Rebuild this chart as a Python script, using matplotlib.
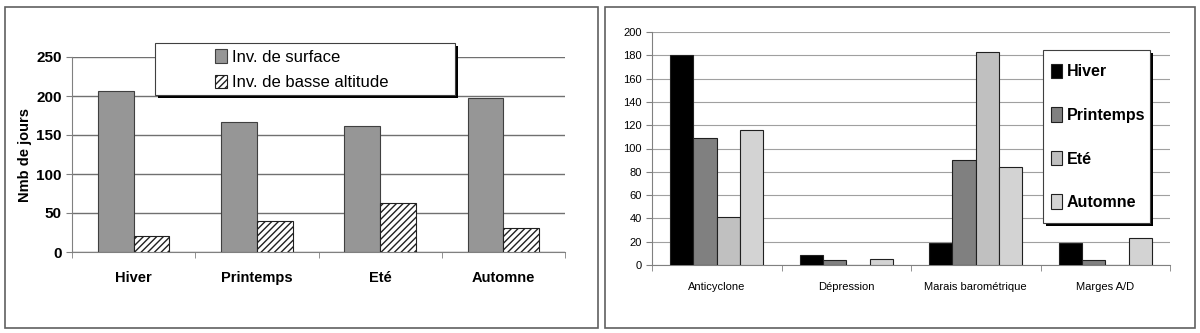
import numpy as np
import matplotlib.pyplot as plt
from matplotlib.patches import Rectangle

plt.rcParams['font.family'] = ['Liberation Sans Narrow', 'Liberation Sans', 'DejaVu Sans']
plt.rcParams['hatch.linewidth'] = 1.0

# left chart data
saisons = ['Hiver', 'Printemps', 'Eté', 'Automne']
inv_surface = [207, 167, 162, 197]
inv_basse = [20, 40, 63, 31]

# right chart data
situations = ['Anticyclone', 'Dépression', 'Marais barométrique', 'Marges A/D']
hiver = [180, 9, 19, 19]
printemps = [109, 4, 90, 4]
ete = [41, 0, 183, 0]
automne = [116, 5, 84, 23]

W, H = 1200, 333
fig = plt.figure(figsize=(W / 100, H / 100), dpi=100)


def px(x0, y0, x1, y1):
    # pixel box (top-left origin) -> figure fraction
    return [x0 / W, 1 - y1 / H, (x1 - x0) / W, (y1 - y0) / H]


def boxed(x0, y0, x1, y1, z=4):
    # white box with black drop shadow, pixel coords
    b = px(x0, y0, x1, y1)
    sh = Rectangle((b[0] + 3 / W, b[1] - 3 / H), b[2], b[3], transform=fig.transFigure,
                   facecolor='black', edgecolor='none', zorder=z)
    fr = Rectangle((b[0], b[1]), b[2], b[3], transform=fig.transFigure,
                   facecolor='white', edgecolor='#404040', linewidth=0.8, zorder=z + 0.1)
    fig.patches.extend([sh, fr])


# outer frames
for x0, x1 in [(5, 598), (605, 1195)]:
    fig.patches.append(Rectangle((x0 / W, 1 - 328 / H), (x1 - x0) / W, 321 / H,
                                 transform=fig.transFigure, fill=False,
                                 edgecolor='#606060', linewidth=1.2))

# ---- left chart ----
ax1 = fig.add_axes(px(72, 57, 565, 252))
x = np.arange(len(saisons))
bw = 0.29
ax1.bar(x - bw / 2, inv_surface, bw, color='#969696', edgecolor='#404040',
        linewidth=0.8, label='Inv. de surface', zorder=3)
ax1.bar(x + bw / 2, inv_basse, bw, color='white', edgecolor='#202020',
        hatch='/////', linewidth=0.8, label='Inv. de basse altitude', zorder=3)
ax1.set_xlim(-0.5, len(saisons) - 0.5)
ax1.set_ylim(0, 250)
ax1.set_yticks(range(0, 251, 50))
ax1.yaxis.grid(True, color='#707070', linewidth=1.0, zorder=0)
ax1.set_xticks(x)
ax1.set_xticklabels(saisons, fontsize=10.5, fontweight='bold')
ax1.set_xticks(np.arange(-0.5, len(saisons)), minor=True)
ax1.tick_params(axis='x', which='major', length=0, pad=14)
ax1.tick_params(axis='x', which='minor', length=4, color='#808080')
ax1.tick_params(axis='y', labelsize=11, length=4, color='#808080')
for lab in ax1.get_yticklabels():
    lab.set_fontweight('bold')
for s in ['top', 'right']:
    ax1.spines[s].set_visible(False)
ax1.spines['left'].set_color('#808080')
ax1.spines['bottom'].set_color('#808080')
ax1.set_ylabel('Nmb de jours', fontsize=10.5, fontweight='bold', labelpad=3)

boxed(155, 43, 455, 95)
leg1 = fig.legend(*ax1.get_legend_handles_labels(), loc='upper left',
                  bbox_to_anchor=(210 / W, 1 - 44 / H), fontsize=12,
                  frameon=False, handlelength=0.7, handleheight=0.9,
                  handletextpad=0.3, borderpad=0.3, labelspacing=0.6,
                  borderaxespad=0)
leg1.set_zorder(6)

# ---- right chart ----
ax2 = fig.add_axes(px(652, 32, 1170, 265))
x2 = np.arange(len(situations))
bw2 = 0.18
cols = ['black', '#808080', '#c0c0c0', '#d3d3d3']
labels = ['Hiver', 'Printemps', 'Eté', 'Automne']
for i, (vals, c, lab) in enumerate(zip([hiver, printemps, ete, automne], cols, labels)):
    ax2.bar(x2 + (i - 1.5) * bw2, vals, bw2, color=c, edgecolor='#202020',
            linewidth=0.8, label=lab, zorder=3)
ax2.set_xlim(-0.5, len(situations) - 0.5)
ax2.set_ylim(0, 200)
ax2.set_yticks(range(0, 201, 20))
ax2.yaxis.grid(True, color='#a0a0a0', linewidth=0.8, zorder=0)
ax2.set_xticks(x2)
ax2.set_xticklabels(situations, fontsize=8)
ax2.set_xticks(np.arange(-0.5, len(situations)), minor=True)
ax2.tick_params(axis='x', which='major', length=0, pad=12)
ax2.tick_params(axis='x', which='minor', length=4, color='#808080')
ax2.tick_params(axis='y', labelsize=8, length=4, color='#808080')
for s in ['top', 'right']:
    ax2.spines[s].set_visible(False)
ax2.spines['left'].set_color('#808080')
ax2.spines['bottom'].set_color('#808080')

boxed(1043, 50, 1150, 223)
leg2 = fig.legend(*ax2.get_legend_handles_labels(), loc='upper left',
                  bbox_to_anchor=(1046 / W, 1 - 59 / H), fontsize=11.5,
                  frameon=False, handlelength=0.7, handleheight=1.0,
                  handletextpad=0.3, borderpad=0.3, labelspacing=1.75,
                  borderaxespad=0)
for t in leg2.get_texts():
    t.set_fontweight('bold')
leg2.set_zorder(6)

fig.savefig('out.png', dpi=100)
